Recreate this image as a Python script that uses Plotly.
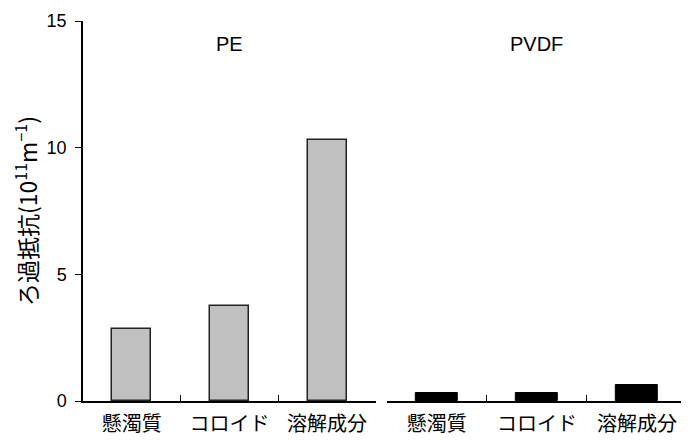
import plotly.graph_objects as go

categories = ["懸濁質", "コロイド", "溶解成分"]
pe_values = [2.85, 3.75, 10.3]
pvdf_values = [0.3, 0.3, 0.62]
group_names = ["PE", "PVDF"]
y_ticks = [0, 5, 10, 15]

cjk = "Noto Sans CJK JP"
latin = "Liberation Sans, Arial"

fig = go.Figure()
fig.add_trace(go.Bar(x=categories, y=pe_values, xaxis="x", yaxis="y", width=0.4,
                     marker=dict(color="#c0c0c0", line=dict(color="#222222", width=1.5)),
                     showlegend=False))
fig.add_trace(go.Bar(x=categories, y=pvdf_values, xaxis="x2", yaxis="y", width=0.42,
                     marker=dict(color="#000000", line=dict(color="#000000", width=1)),
                     showlegend=False))

xcommon = dict(type="category", range=[-0.5, 2.5], showline=True, linecolor="black", linewidth=1.5,
               ticks="inside", tickson="boundaries", ticklen=6, tickcolor="black", tickwidth=1,
               tickfont=dict(family=cjk, size=20, color="black"), showgrid=False, zeroline=False,
               fixedrange=True, ticklabelstandoff=4)

fig.update_layout(
    width=681, height=435,
    margin=dict(l=75, r=2, t=13, b=42, autoexpand=False),
    plot_bgcolor="white", paper_bgcolor="white",
    xaxis=dict(domain=[0, 0.485], anchor="y", **xcommon),
    xaxis2=dict(domain=[0.503, 1], anchor="y", **xcommon),
    yaxis=dict(range=[0, 15], tickvals=y_ticks, ticks="outside", ticklen=6, tickcolor="black",
               showline=True, linecolor="black", linewidth=1.5, showgrid=False, zeroline=False,
               tickfont=dict(family=latin, size=18, color="black"), anchor="x",
               ticklabelstandoff=5,
               title=dict(text="ろ過抵抗(10<sup>11</sup>m<sup>−1</sup>)",
                          font=dict(family=cjk, size=23, color="black"), standoff=7)),
    annotations=[
        dict(text=group_names[0], x=1, y=1, xref="x", yref="paper", yanchor="top", yshift=-10,
             showarrow=False, font=dict(family=latin, size=20, color="black")),
        dict(text=group_names[1], x=1, y=1, xref="x2", yref="paper", yanchor="top", yshift=-10,
             showarrow=False, font=dict(family=latin, size=20, color="black")),
    ],
    bargap=0,
)

fig.write_html("out.html")
